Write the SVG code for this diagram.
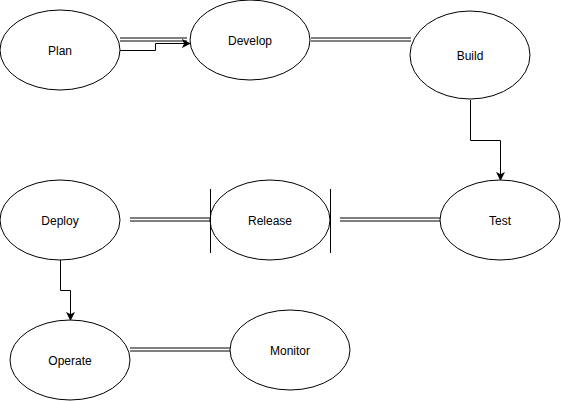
<svg xmlns="http://www.w3.org/2000/svg" width="561" height="401" viewBox="0 0 561 401">
<defs>
<style>
.node ellipse{fill:#fff;stroke:#000;stroke-width:1}
.node text{font-family:"Liberation Sans",Arial,sans-serif;font-size:12px;fill:#000;text-anchor:middle;dominant-baseline:central}
.link{fill:none;stroke:#000;stroke-width:1}
.edge{fill:none;stroke:#000;stroke-width:1}
.bar{stroke:#000;stroke-width:1}
</style>
<marker id="arr" viewBox="0 0 10 10" refX="9" refY="5" markerWidth="9" markerHeight="9" markerUnits="userSpaceOnUse" orient="auto">
<path d="M0,0 L10,5 L0,10 L2.5,5 Z" fill="#000"/>
</marker>
</defs>
<rect width="561" height="401" fill="#fff"/>
<g id="connectors">
<path class="link" d="M120,38 H187 M120,41 H187"/>
<path class="edge" d="M120,50.5 H155.5 V43.5 H190" marker-end="url(#arr)"/>
<path class="link" d="M311,38 H411 M311,41 H411"/>
<path class="edge" d="M470.5,100 V140.5 H500.5 V180" marker-end="url(#arr)"/>
<path class="link" d="M130,218 H210 M130,221 H210"/>
<path class="link" d="M340,218 H440 M340,221 H440"/>
<path class="edge" d="M60.5,260 V290.5 H70.5 V320" marker-end="url(#arr)"/>
<path class="link" d="M130,348 H231 M130,351 H231"/>
</g>
<g id="plan" class="node"><ellipse cx="60" cy="50" rx="60" ry="40"/><text x="60" y="51">Plan</text></g>
<g id="develop" class="node"><ellipse cx="250" cy="40" rx="60" ry="40"/><text x="250" y="41">Develop</text></g>
<g id="build" class="node"><ellipse cx="470" cy="55" rx="60" ry="44"/><text x="470" y="56">Build</text></g>
<g id="deploy" class="node"><ellipse cx="60" cy="220" rx="60" ry="40"/><text x="60" y="221">Deploy</text></g>
<g id="release" class="node"><ellipse cx="270" cy="220" rx="60" ry="40"/><line class="bar" x1="210.5" y1="189" x2="210.5" y2="253"/><line class="bar" x1="330.5" y1="189" x2="330.5" y2="253"/><text x="270" y="221">Release</text></g>
<g id="test" class="node"><ellipse cx="500" cy="220" rx="60" ry="40"/><text x="500" y="221">Test</text></g>
<g id="operate" class="node"><ellipse cx="70" cy="360" rx="60" ry="40"/><text x="70" y="361">Operate</text></g>
<g id="monitor" class="node"><ellipse cx="290" cy="350" rx="60" ry="40"/><text x="290" y="351">Monitor</text></g>
</svg>
